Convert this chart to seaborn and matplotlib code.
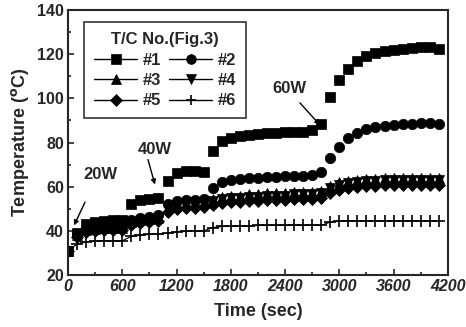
import numpy as np
import pandas as pd
import matplotlib
matplotlib.use("Agg")
import matplotlib.pyplot as plt
from matplotlib.lines import Line2D
from matplotlib.ticker import MultipleLocator
import seaborn as sns

# Sample times (sec)
times = np.arange(0, 4200, 100)

# Thermocouple readings (deg C)
tc1 = [31, 39, 43, 44, 44.5, 45, 45, 52, 54, 54.5, 55, 62.5, 66, 67, 67, 66.5,
       76, 80.5, 82, 83, 83.5, 84, 84.5, 84.5, 85, 85, 85, 85.5, 88.5, 100.5,
       108.5, 113.5, 117, 119, 120.5, 121.5, 122, 122.5, 123, 123.5, 123.5, 122.5]
tc2 = [31, 38.5, 41, 41.5, 42, 42, 42, 45, 46, 46.5, 47, 52, 53.5, 54, 54, 54.5,
       59.5, 62, 63, 63.5, 64, 64, 64.5, 64.5, 65, 65, 65, 65.5, 66.5, 73,
       78, 82, 84.5, 86, 87, 87.5, 88, 88.5, 88.5, 89, 89, 88.5]
tc3 = [31, 38, 40.5, 41, 41.5, 41.5, 41.5, 44, 45, 45.5, 46, 50.5, 52, 52.5, 53, 53,
       54.5, 55.5, 56, 56, 56.5, 56.5, 57, 57, 57, 57.5, 57.5, 57.5, 58, 60.5,
       62, 62.5, 63, 63.5, 63.5, 64, 64, 64, 64, 64, 64, 64]
tc4 = [31, 37.5, 40, 40.5, 41, 41, 41, 43.5, 44.5, 45, 45.5, 50, 51.5, 52, 52, 52.5,
       53.5, 54.5, 55, 55, 55.5, 55.5, 56, 56, 56, 56.5, 56.5, 56.5, 57, 59.5,
       61, 61.5, 62, 62.5, 62.5, 63, 63, 63, 63, 63, 63, 63]
tc5 = [31, 37, 39.5, 40, 40.5, 40.5, 40.5, 42.5, 43.5, 44, 44.5, 48.5, 50, 50.5, 50.5, 51,
       51.5, 52.5, 53, 53, 53.5, 53.5, 54, 54, 54, 54.5, 54.5, 54.5, 55, 57,
       58.5, 59.5, 60, 60.5, 60.5, 61, 61, 61, 61, 61, 61, 61]
tc6 = [31, 34, 35, 35.5, 35.5, 35.5, 35.5, 37.5, 38, 38.5, 38.5, 39, 39.5, 40, 40, 40,
       41.5, 42, 42, 42, 42, 42.5, 42.5, 42.5, 42.5, 42.5, 42.5, 42.5, 42.5, 44,
       44.5, 44.5, 44.5, 44.5, 44.5, 44.5, 44.5, 44.5, 44.5, 44.5, 44.5, 44.5]

labels = ["#1", "#2", "#3", "#4", "#5", "#6"]
series = [tc1, tc2, tc3, tc4, tc5, tc6]
markers = ["s", "o", "^", "v", "D", "+"]
sizes = [7, 7.5, 7.5, 7.5, 6.5, 8]

df = pd.concat([pd.DataFrame({"Time": times, "Temp": s, "TC": lab})
                for s, lab in zip(series, labels)], ignore_index=True)

sns.set_style("ticks")
plt.rcParams['font.family'] = ['Liberation Sans', 'DejaVu Sans']
plt.rcParams['font.weight'] = 'bold'

fig = plt.figure(figsize=(4.66, 3.27), dpi=100)
ax = fig.add_axes([0.146, 0.159, 0.815, 0.81])

# Draw the series (markers only, #6 with a thin connecting line)
for lab, mk, ms in zip(labels, markers, sizes):
    sub = df[df["TC"] == lab]
    ls = '-' if lab == "#6" else ''
    sns.lineplot(data=sub, x="Time", y="Temp", ax=ax, color='black', marker=mk,
                 markersize=ms, linestyle=ls, linewidth=0.8,
                 markeredgewidth=1.2 if mk == '+' else 0.5,
                 markeredgecolor='black', estimator=None, legend=False)

ax.set_xlim(0, 4200)
ax.set_ylim(20, 140)
ax.xaxis.set_major_locator(MultipleLocator(600))
ax.xaxis.set_minor_locator(MultipleLocator(300))
ax.yaxis.set_major_locator(MultipleLocator(20))
ax.yaxis.set_minor_locator(MultipleLocator(10))
ax.tick_params(which='both', direction='in', width=1.2)
ax.tick_params(which='major', length=4, pad=3)
ax.tick_params(which='minor', length=2)
for sp in ax.spines.values():
    sp.set_linewidth(1.5)
    sp.set_visible(True)
for t in ax.get_xticklabels():
    t.set_fontstyle('italic')
    t.set_fontweight('bold')
    t.set_fontsize(11.5)
for t in ax.get_yticklabels():
    t.set_fontweight('bold')
    t.set_fontsize(11.5)

ax.set_xlabel("Time (sec)", fontsize=13, fontweight='bold', labelpad=6)
ax.set_ylabel(r"Temperature ($\mathbf{^o}$C)", fontsize=13, fontweight='bold', labelpad=4)

# Power step annotations
arrow = dict(arrowstyle='-|>', color='black', lw=1, mutation_scale=7, shrinkA=0, shrinkB=0)
ax.annotate("", xy=(66, 42.5), xytext=(188, 53), arrowprops=arrow)
ax.text(166, 65.5, "20W", fontsize=12, fontweight='bold', ha='left', va='center')
ax.annotate("", xy=(961, 61), xytext=(884, 72.3), arrowprops=arrow)
ax.text(961, 77, "40W", fontsize=12, fontweight='bold', ha='center', va='center')
ax.annotate("", xy=(2785, 88), xytext=(2564, 98), arrowprops=arrow)
ax.text(2453, 104.5, "60W", fontsize=12, fontweight='bold', ha='center', va='center')

# Legend filled row by row: #1 #2 / #3 #4 / #5 #6
order = [0, 2, 4, 1, 3, 5]
handles = [Line2D([0], [0], color='black', lw=1, marker=markers[i], markersize=sizes[i] - 0.5,
                  markeredgewidth=1.2 if markers[i] == '+' else 0.5) for i in order]
leg = ax.legend(handles, [labels[i] for i in order], ncol=2, title="T/C No.(Fig.3)",
                loc='upper left', bbox_to_anchor=(0.02, 0.985), frameon=True, fancybox=False,
                edgecolor='black', fontsize=12, title_fontsize=12,
                handlelength=2.6, columnspacing=0.5, handletextpad=0.3,
                labelspacing=0.32, borderpad=0.6)
leg.get_frame().set_linewidth(1.2)
leg.get_title().set_fontweight('bold')

fig.savefig("out.png", dpi=100)
